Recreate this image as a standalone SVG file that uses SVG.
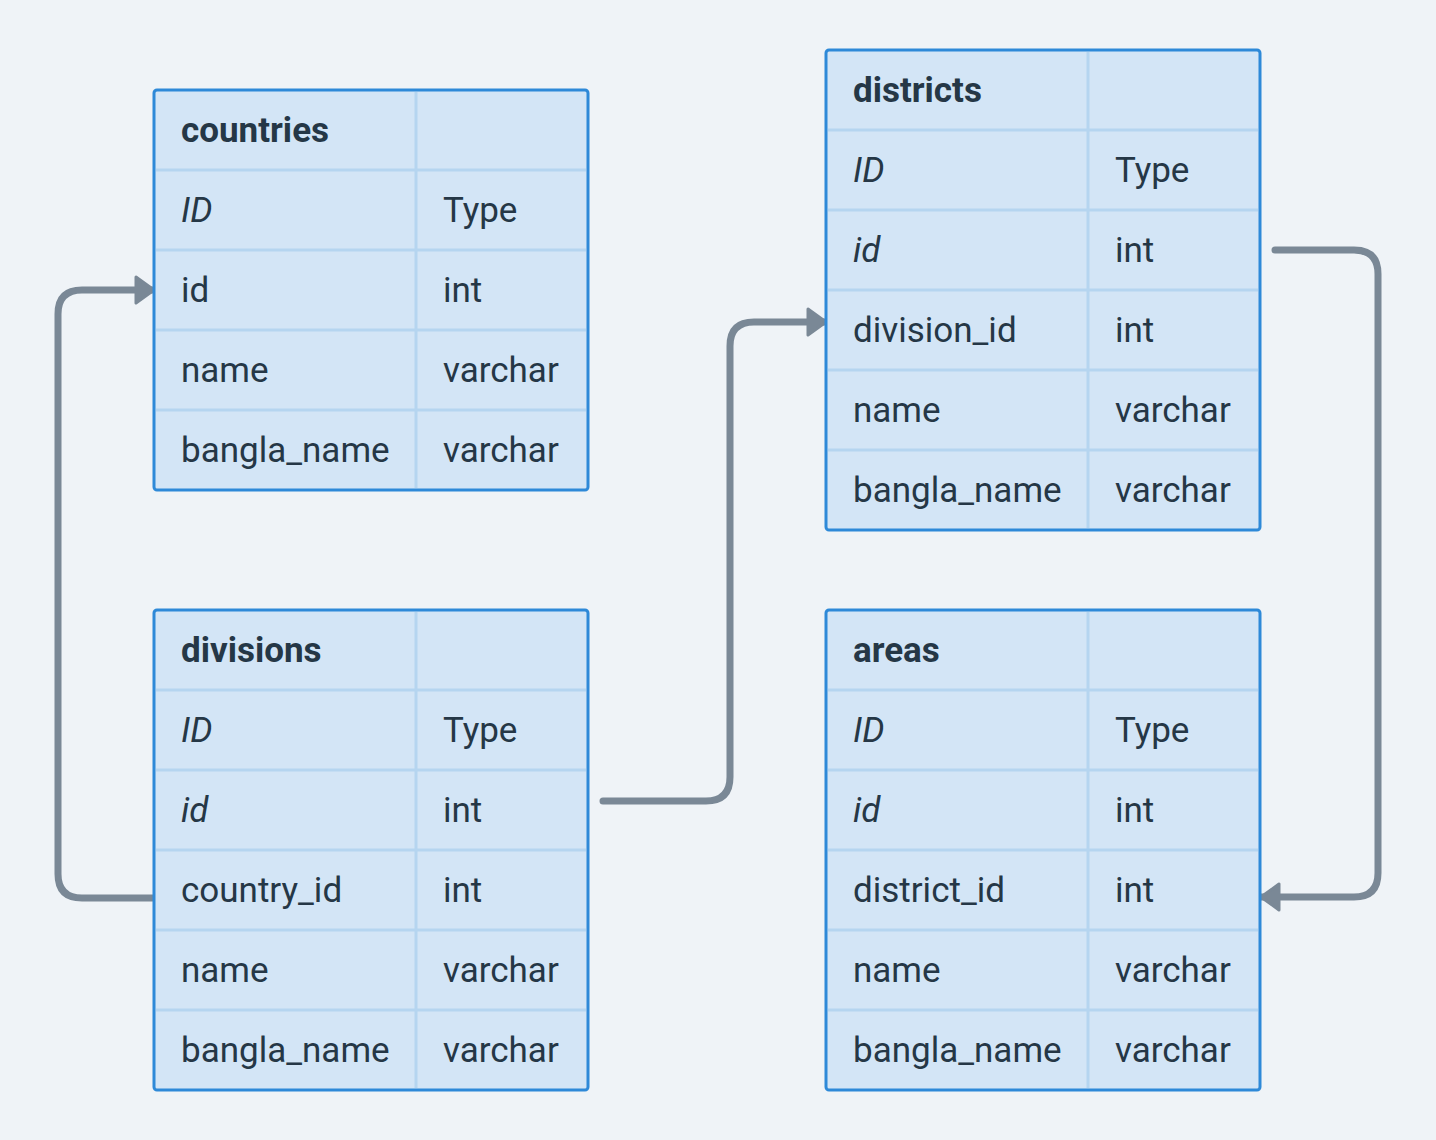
<svg xmlns="http://www.w3.org/2000/svg" width="1436" height="1140" viewBox="0 0 1436 1140">
<style>
.bg{fill:#eff3f7}
.tbl{fill:#d3e5f6;stroke:#2e89d8;stroke-width:3}
.sep{stroke:#b5d5f0;stroke-width:3;fill:none}
.t{font-family:Roboto,"Noto Sans",sans-serif;font-size:35px;fill:#253746}
.h{font-weight:bold}
.i{font-style:italic}
.conn{fill:none;stroke:#7a8896;stroke-width:7;stroke-linecap:round;stroke-linejoin:round}
</style>
<defs>
<marker id="arr" viewBox="0 0 24 32" refX="21" refY="16" markerWidth="24" markerHeight="32" markerUnits="userSpaceOnUse" orient="auto">
<path d="M3,3 L21,16 L3,29 Z" fill="#7a8896" stroke="#7a8896" stroke-width="3" stroke-linejoin="round"/>
</marker>
</defs>
<rect class="bg" width="1436" height="1140"/>
<g id="connectors">
<path class="conn" d="M155,898 H82 Q58,898 58,874 V314 Q58,290 82,290 H154" marker-end="url(#arr)"/>
<path class="conn" d="M603,801 H706 Q730,801 730,777 V346 Q730,322 754,322 H826" marker-end="url(#arr)"/>
<path class="conn" d="M1275,250 H1354 Q1378,250 1378,274 V873 Q1378,897 1354,897 H1261" marker-end="url(#arr)"/>
</g>
<g id="countries">
<rect class="tbl" x="154" y="90" width="434" height="400" rx="3"/>
<path class="sep" d="M156,170 H586 M156,250 H586 M156,330 H586 M156,410 H586 M416,92 V488"/>
<text class="t h" x="181" y="142">countries</text>
<text class="t i" x="181" y="222">ID</text><text class="t" x="443" y="222">Type</text>
<text class="t" x="181" y="302">id</text><text class="t" x="443" y="302">int</text>
<text class="t" x="181" y="382">name</text><text class="t" x="443" y="382">varchar</text>
<text class="t" x="181" y="462">bangla_name</text><text class="t" x="443" y="462">varchar</text>
</g>
<g id="divisions">
<rect class="tbl" x="154" y="610" width="434" height="480" rx="3"/>
<path class="sep" d="M156,690 H586 M156,770 H586 M156,850 H586 M156,930 H586 M156,1010 H586 M416,612 V1088"/>
<text class="t h" x="181" y="662">divisions</text>
<text class="t i" x="181" y="742">ID</text><text class="t" x="443" y="742">Type</text>
<text class="t i" x="181" y="822">id</text><text class="t" x="443" y="822">int</text>
<text class="t" x="181" y="902">country_id</text><text class="t" x="443" y="902">int</text>
<text class="t" x="181" y="982">name</text><text class="t" x="443" y="982">varchar</text>
<text class="t" x="181" y="1062">bangla_name</text><text class="t" x="443" y="1062">varchar</text>
</g>
<g id="districts">
<rect class="tbl" x="826" y="50" width="434" height="480" rx="3"/>
<path class="sep" d="M828,130 H1258 M828,210 H1258 M828,290 H1258 M828,370 H1258 M828,450 H1258 M1088,52 V528"/>
<text class="t h" x="853" y="102">districts</text>
<text class="t i" x="853" y="182">ID</text><text class="t" x="1115" y="182">Type</text>
<text class="t i" x="853" y="262">id</text><text class="t" x="1115" y="262">int</text>
<text class="t" x="853" y="342">division_id</text><text class="t" x="1115" y="342">int</text>
<text class="t" x="853" y="422">name</text><text class="t" x="1115" y="422">varchar</text>
<text class="t" x="853" y="502">bangla_name</text><text class="t" x="1115" y="502">varchar</text>
</g>
<g id="areas">
<rect class="tbl" x="826" y="610" width="434" height="480" rx="3"/>
<path class="sep" d="M828,690 H1258 M828,770 H1258 M828,850 H1258 M828,930 H1258 M828,1010 H1258 M1088,612 V1088"/>
<text class="t h" x="853" y="662">areas</text>
<text class="t i" x="853" y="742">ID</text><text class="t" x="1115" y="742">Type</text>
<text class="t i" x="853" y="822">id</text><text class="t" x="1115" y="822">int</text>
<text class="t" x="853" y="902">district_id</text><text class="t" x="1115" y="902">int</text>
<text class="t" x="853" y="982">name</text><text class="t" x="1115" y="982">varchar</text>
<text class="t" x="853" y="1062">bangla_name</text><text class="t" x="1115" y="1062">varchar</text>
</g>
</svg>
